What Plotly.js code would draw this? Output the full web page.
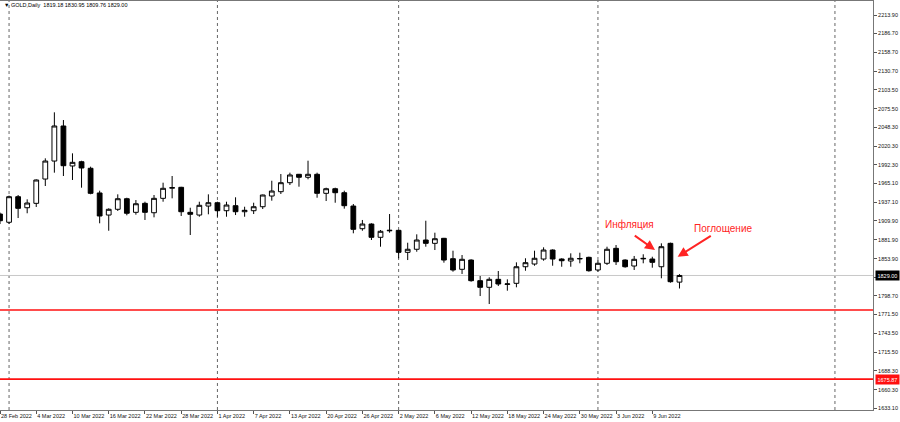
<!DOCTYPE html>
<html>
<head>
<meta charset="utf-8">
<script src="https://cdn.plot.ly/plotly-3.0.1.min.js"></script>
<style>html,body{margin:0;padding:0;background:#fff;}#chart{width:900px;height:422px;}</style>
</head>
<body>
<div id="chart"></div>
<script>
// ---- data ----
const dates = ["2022-02-28","2022-03-01","2022-03-02","2022-03-03","2022-03-04","2022-03-07","2022-03-08","2022-03-09","2022-03-10","2022-03-11",
"2022-03-14","2022-03-15","2022-03-16","2022-03-17","2022-03-18","2022-03-21","2022-03-22","2022-03-23","2022-03-24","2022-03-25",
"2022-03-28","2022-03-29","2022-03-30","2022-03-31","2022-04-01","2022-04-04","2022-04-05","2022-04-06","2022-04-07","2022-04-08",
"2022-04-11","2022-04-12","2022-04-13","2022-04-14","2022-04-18","2022-04-19","2022-04-20","2022-04-21","2022-04-22","2022-04-25",
"2022-04-26","2022-04-27","2022-04-28","2022-04-29","2022-05-02","2022-05-03","2022-05-04","2022-05-05","2022-05-06","2022-05-09",
"2022-05-10","2022-05-11","2022-05-12","2022-05-13","2022-05-16","2022-05-17","2022-05-18","2022-05-19","2022-05-20","2022-05-23",
"2022-05-24","2022-05-25","2022-05-26","2022-05-27","2022-05-30","2022-05-31","2022-06-01","2022-06-02","2022-06-03","2022-06-06",
"2022-06-07","2022-06-08","2022-06-09","2022-06-10","2022-06-13","2022-06-14"];

const openP = [1919.8,1907.6,1945.4,1929.1,1935.6,1971.5,1998.1,2049.9,1990.8,1997.1,
1987.4,1950.9,1918.3,1926.8,1942.4,1922.3,1935.6,1921.7,1943.0,1958.0,
1959.3,1922.3,1918.3,1931.6,1936.5,1924.7,1932.1,1923.2,1924.7,1930.6,
1946.4,1952.8,1966.1,1978.5,1974.1,1978.5,1950.4,1957.2,1951.3,1931.6,
1898.1,1905.0,1885.4,1895.0,1895.7,1863.2,1867.7,1881.4,1876.5,1883.9,
1853.8,1838.1,1851.8,1821.3,1811.5,1823.3,1815.8,1817.4,1841.9,1845.9,
1853.3,1866.6,1853.3,1850.4,1853.5,1855.8,1837.1,1847.0,1869.1,1851.8,
1843.0,1853.5,1853.3,1841.9,1876.5,1819.18];

const highP = [1922.0,1947.0,1947.9,1941.5,1971.0,2002.1,2070.1,2058.7,2009.5,1998.5,
1989.8,1954.3,1928.2,1948.9,1943.9,1940.5,1938.0,1947.9,1966.1,1976.0,
1960.0,1929.1,1938.0,1948.9,1938.0,1938.0,1944.5,1930.6,1936.5,1948.5,
1969.0,1978.9,1980.9,1979.0,1998.6,1980.9,1958.7,1958.7,1954.3,1934.6,
1911.0,1906.1,1896.2,1919.8,1896.5,1877.4,1889.8,1909.9,1892.2,1884.5,
1865.6,1859.2,1852.9,1828.2,1826.3,1835.6,1823.3,1848.4,1854.4,1865.6,
1870.6,1867.6,1854.4,1861.7,1862.6,1856.8,1851.8,1871.5,1874.0,1852.9,
1857.8,1860.3,1856.7,1876.5,1877.5,1830.95];

const lowP = [1905.0,1905.0,1913.9,1920.9,1930.2,1961.2,1980.9,1976.0,1970.1,1958.7,
1949.0,1906.1,1895.1,1924.3,1917.9,1918.8,1911.0,1914.9,1938.0,1943.0,
1916.9,1888.8,1915.8,1919.4,1915.8,1915.8,1918.3,1915.8,1919.8,1927.2,
1939.5,1949.4,1962.7,1960.2,1971.1,1943.9,1939.0,1936.5,1927.7,1891.3,
1895.1,1881.4,1871.5,1892.2,1854.4,1851.8,1864.1,1871.5,1866.6,1847.9,
1834.6,1831.2,1819.8,1798.6,1786.8,1813.4,1806.5,1811.5,1836.0,1843.4,
1850.8,1843.4,1841.9,1841.9,1847.0,1834.6,1834.6,1844.5,1844.5,1840.5,
1837.1,1847.0,1840.5,1824.8,1818.3,1809.76];

const closeP = [1909.9,1945.4,1928.2,1936.1,1970.1,1998.1,2049.9,1991.2,1996.2,1987.8,
1950.4,1916.9,1926.8,1942.4,1920.9,1935.0,1922.3,1943.0,1957.8,1958.8,
1923.2,1919.4,1932.7,1936.5,1924.7,1933.1,1923.2,1925.3,1930.6,1947.9,
1953.8,1966.1,1977.5,1974.1,1978.5,1950.4,1957.2,1951.3,1932.1,1897.2,
1905.0,1885.4,1894.3,1895.7,1863.2,1867.7,1881.4,1876.5,1883.3,1851.8,
1837.1,1852.9,1821.3,1811.5,1823.3,1816.4,1816.5,1841.9,1847.9,1854.4,
1866.6,1853.3,1850.8,1854.4,1854.0,1836.0,1847.0,1867.7,1849.3,1841.9,
1852.9,1854.2,1848.4,1871.5,1819.8,1829.00];

const xTickDates = ["2022-02-28","2022-03-04","2022-03-10","2022-03-16","2022-03-22","2022-03-28","2022-04-01","2022-04-07","2022-04-13",
"2022-04-20","2022-04-26","2022-05-02","2022-05-06","2022-05-12","2022-05-18","2022-05-24","2022-05-30","2022-06-03","2022-06-09"];
const xTickLabels = ["28 Feb 2022","4 Mar 2022","10 Mar 2022","16 Mar 2022","22 Mar 2022","28 Mar 2022","1 Apr 2022","7 Apr 2022","13 Apr 2022",
"20 Apr 2022","26 Apr 2022","2 May 2022","6 May 2022","12 May 2022","18 May 2022","24 May 2022","30 May 2022","3 Jun 2022","9 Jun 2022"];

const yTickValues = [2213.90,2186.70,2158.70,2130.70,2103.50,2075.50,2048.30,2020.30,1992.30,1965.10,1937.10,
1909.90,1881.90,1853.90,1826.70,1798.70,1771.50,1743.50,1715.50,1688.30,1660.30,1633.10];

const separatorDates = ["2022-03-01","2022-04-01","2022-05-02","2022-06-01"];
const futureSeparatorIndex = 92.16;

const symbol = "GOLD,Daily";
const bidPrice = 1829.00;
const levelLines = [1778.0, 1675.87];
const levelLabel = "1675.87";

const notes = [
  {text: "Инфляция", x: 69.48, y: 1905.0, headX: 72.3, headY: 1866.6, tailX: 69.9, tailY: 1889.5},
  {text: "Поглощение", x: 79.8, y: 1899.1, headX: 74.8, headY: 1856.7, tailX: 78.62, tailY: 1888.8}
];

// ---- chart ----
const FONT = "Liberation Sans, Arial, sans-serif";
const last = closeP.length - 1;

const trace = {
  type: "candlestick",
  x: dates, open: openP, high: highP, low: lowP, close: closeP,
  increasing: {line: {color: "#000", width: 1}, fillcolor: "#ffffff"},
  decreasing: {line: {color: "#000", width: 1}, fillcolor: "#000000"},
  whiskerwidth: 0,
  hoverinfo: "skip",
  showlegend: false
};

const shapes = [];
separatorDates.forEach(d => {
  const i = dates.indexOf(d);
  shapes.push({type: "line", xref: "x", yref: "paper", x0: i, x1: i, y0: 0, y1: 1,
    line: {color: "#666", width: 1, dash: "dot"}, layer: "below"});
});
shapes.push({type: "line", xref: "x", yref: "paper", x0: futureSeparatorIndex, x1: futureSeparatorIndex, y0: 0, y1: 1,
  line: {color: "#666", width: 1, dash: "dot"}, layer: "below"});
shapes.push({type: "line", xref: "paper", yref: "y", x0: 0, x1: 1, y0: bidPrice, y1: bidPrice,
  line: {color: "#c8c8c8", width: 1}, layer: "below"});
levelLines.forEach(v => {
  shapes.push({type: "line", xref: "paper", yref: "y", x0: 0, x1: 1, y0: v, y1: v,
    line: {color: "#ff1010", width: 1.6}, layer: "above"});
});

const annotations = [];
annotations.push({
  xref: "paper", yref: "paper", x: 2/873, y: 1 - 4/409, xanchor: "left", yanchor: "middle",
  text: "▼ " + symbol + "  " + [openP[last], highP[last], lowP[last], closeP[last]].map(v => v.toFixed(2)).join(" "),
  showarrow: false, font: {family: FONT, size: 5.5, color: "#000"}
});
notes.forEach(n => {
  annotations.push({xref: "x", yref: "y", x: n.x, y: n.y, text: n.text, showarrow: false,
    font: {family: FONT, size: 10, color: "#ff2424"}});
  annotations.push({xref: "x", yref: "y", axref: "x", ayref: "y", x: n.headX, y: n.headY, ax: n.tailX, ay: n.tailY,
    text: "", showarrow: true, arrowhead: 2, arrowsize: 1, arrowwidth: 2, arrowcolor: "#ff2424", standoff: 0, startstandoff: 0});
});
annotations.push({xref: "paper", yref: "y", x: 875/873, y: bidPrice, xanchor: "left", yanchor: "middle",
  text: bidPrice.toFixed(2), showarrow: false, bgcolor: "#000", borderpad: 1.5,
  font: {family: FONT, size: 5.5, color: "#fff"}});
annotations.push({xref: "paper", yref: "y", x: 875/873, y: levelLines[1], xanchor: "left", yanchor: "middle",
  text: levelLabel, showarrow: false, bgcolor: "#ff1010", borderpad: 1.5,
  font: {family: FONT, size: 5.5, color: "#fff"}});

const layout = {
  width: 900, height: 422,
  margin: {l: 0, r: 27, t: 1, b: 12, pad: 0},
  paper_bgcolor: "#fff", plot_bgcolor: "#fff",
  showlegend: false,
  boxgap: 0.25,
  font: {family: FONT, size: 5.5, color: "#111"},
  xaxis: {
    type: "category", range: [0, 96.36], autorange: false,
    rangeslider: {visible: false},
    tickvals: xTickDates, ticktext: xTickLabels,
    tickangle: 0,
    ticks: "outside", ticklen: 3, tickcolor: "#555", tickwidth: 1,
    ticklabelposition: "outside right",
    tickfont: {family: FONT, size: 5.5, color: "#111"},
    showline: true, linecolor: "#777", linewidth: 1, mirror: true,
    showgrid: false, zeroline: false, fixedrange: true
  },
  yaxis: {
    side: "right", range: [1630.2, 2234.6], autorange: false,
    tickvals: yTickValues, tickformat: ".2f",
    ticks: "outside", ticklen: 3, tickcolor: "#555", tickwidth: 1,
    tickfont: {family: FONT, size: 5.5, color: "#111"},
    showline: true, linecolor: "#777", linewidth: 1, mirror: true,
    showgrid: false, zeroline: false, fixedrange: true
  },
  shapes: shapes,
  annotations: annotations
};

Plotly.newPlot("chart", [trace], layout, {staticPlot: true, displayModeBar: false});
</script>
</body>
</html>
